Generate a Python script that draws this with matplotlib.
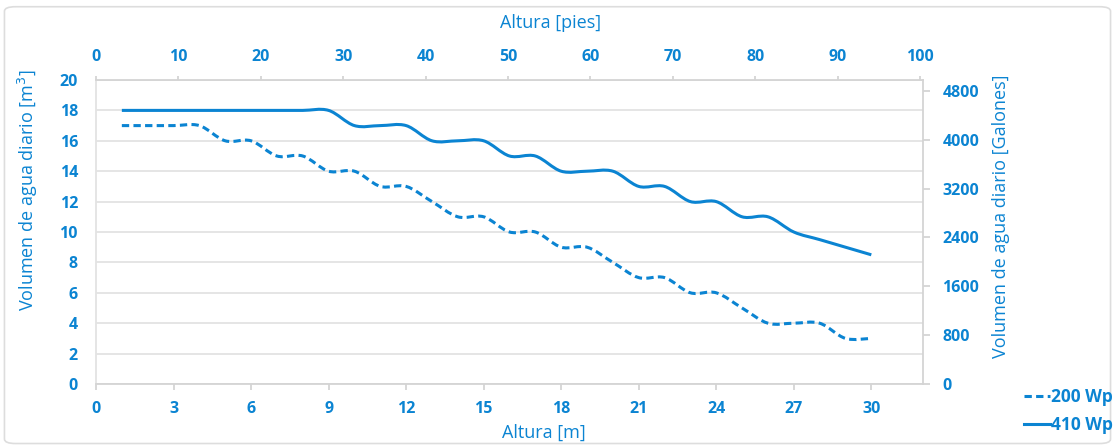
import matplotlib.pyplot as plt
from matplotlib.path import Path
from matplotlib.patches import PathPatch, FancyBboxPatch
from matplotlib.lines import Line2D

plt.rcParams['font.family'] = ['Open Sans', 'DejaVu Sans']

# data
altura_m = list(range(1, 31))
wp200 = [17, 17, 17, 17, 16, 16, 15, 15, 14, 14, 13, 13, 12, 11, 11,
         10, 10, 9, 9, 8, 7, 7, 6, 6, 5, 4, 4, 4, 3, 3]
wp410 = [18, 18, 18, 18, 18, 18, 18, 18, 18, 17, 17, 17, 16, 16, 16,
         15, 15, 14, 14, 14, 13, 13, 12, 12, 11, 11, 10, 9.5, 9, 8.5]
labels = ['200 Wp', '410 Wp']

blue = '#0B84D2'
grid_c = '#E3E3E3'
axis_c = '#D4D4D4'


def smooth_path(xs, ys):
    # smoothed line like office charts: cubic bezier through each point
    pts = list(zip(xs, ys))
    n = len(pts)
    verts = [pts[0]]
    codes = [Path.MOVETO]
    for i in range(n - 1):
        p0 = pts[i - 1] if i > 0 else pts[i]
        p1 = pts[i]
        p2 = pts[i + 1]
        p3 = pts[i + 2] if i + 2 < n else pts[i + 1]
        c1 = (p1[0] + (p2[0] - p0[0]) / 6, p1[1] + (p2[1] - p0[1]) / 6)
        c2 = (p2[0] - (p3[0] - p1[0]) / 6, p2[1] - (p3[1] - p1[1]) / 6)
        verts += [c1, c2, p2]
        codes += [Path.CURVE4] * 3
    return Path(verts, codes)


fig = plt.figure(figsize=(11.15, 4.48), dpi=100)
ax = fig.add_axes([96/1115, 1-384/448, (923-96)/1115, (384-80)/448])

dash = (0, (2.4, 1.4))
lw = 2.2
ax.add_patch(PathPatch(smooth_path(altura_m, wp200), fill=False, edgecolor=blue,
                       lw=lw, linestyle=dash, capstyle='butt'))
ax.add_patch(PathPatch(smooth_path(altura_m, wp410), fill=False, edgecolor=blue,
                       lw=lw))

ax.set_xlim(0, 32)
ax.set_ylim(0, 20)
ax.set_xticks(range(0, 31, 3))
ax.set_yticks(range(0, 21, 2))
ax.grid(axis='y', color=grid_c, lw=1.3)
ax.set_axisbelow(True)
for s in ['right', 'top']:
    ax.spines[s].set_visible(False)
ax.spines['left'].set_color(grid_c)
ax.spines['bottom'].set_color(axis_c)
ax.spines['left'].set_linewidth(1.3)
ax.spines['bottom'].set_linewidth(1.3)
ax.tick_params(axis='x', colors=axis_c, length=4, width=1.3, labelcolor=blue,
               labelsize=11.5, pad=8)
ax.tick_params(axis='y', length=0, labelcolor=blue, labelsize=11.5, pad=13)
for t in ax.get_xticklabels() + ax.get_yticklabels():
    t.set_fontweight('bold')
ax.set_xlabel('Altura [m]', color=blue, fontsize=13, fontweight='medium')
ax.set_ylabel('Volumen de agua diario [m$^3$]', color=blue, fontsize=13,
              fontweight='medium')
ax.xaxis.set_label_coords(0.542, -0.13)
ax.yaxis.set_label_coords(-0.068, 0.638)

# top axis in feet
axt = ax.twiny()
axt.set_xlim(0, 100 * 827 / 824)
axt.set_xticks(range(0, 101, 10))
for s in ['right', 'left', 'bottom']:
    axt.spines[s].set_visible(False)
axt.spines['top'].set_color(axis_c)
axt.spines['top'].set_linewidth(1.3)
axt.tick_params(axis='x', colors=axis_c, length=3, width=1.3, labelcolor=blue,
                labelsize=11.5, pad=8)
for t in axt.get_xticklabels():
    t.set_fontweight('bold')
axt.set_xlabel('Altura [pies]', color=blue, fontsize=13, fontweight='medium')
axt.xaxis.set_label_coords(0.55, 1.17)

# right axis in gallons
axr = ax.twinx()
axr.set_ylim(0, 4980)
axr.set_yticks(range(0, 4801, 800))
for s in ['left', 'bottom', 'top']:
    axr.spines[s].set_visible(False)
axr.spines['right'].set_color(axis_c)
axr.spines['right'].set_linewidth(1.3)
axr.tick_params(axis='y', colors=axis_c, length=5, width=1.3, labelcolor=blue,
                labelsize=11.5, pad=9)
for t in axr.get_yticklabels():
    t.set_fontweight('bold')
axr.set_ylabel('Volumen de agua diario [Galones]', color=blue, fontsize=13,
               fontweight='medium')
axr.yaxis.set_label_coords(1.083, 0.553)

handles = [Line2D([], [], color=blue, lw=lw, linestyle=dash),
           Line2D([], [], color=blue, lw=lw)]
leg = fig.legend(handles, labels, loc='center left',
                 bbox_to_anchor=(1024/1115, 1 - 411/448),
                 frameon=False, borderpad=0, borderaxespad=0,
                 handlelength=1.5, handletextpad=0.05, labelspacing=0.55,
                 prop={'size': 12.5, 'weight': 'bold'})
for t in leg.get_texts():
    t.set_color(blue)

fig.patches.append(FancyBboxPatch((0.004, 0.01), 0.992, 0.975,
                                  boxstyle='round,pad=0,rounding_size=0.01',
                                  transform=fig.transFigure, fill=False,
                                  edgecolor='#DDDDDD', lw=1.2))

fig.savefig('out.png', dpi=100)
